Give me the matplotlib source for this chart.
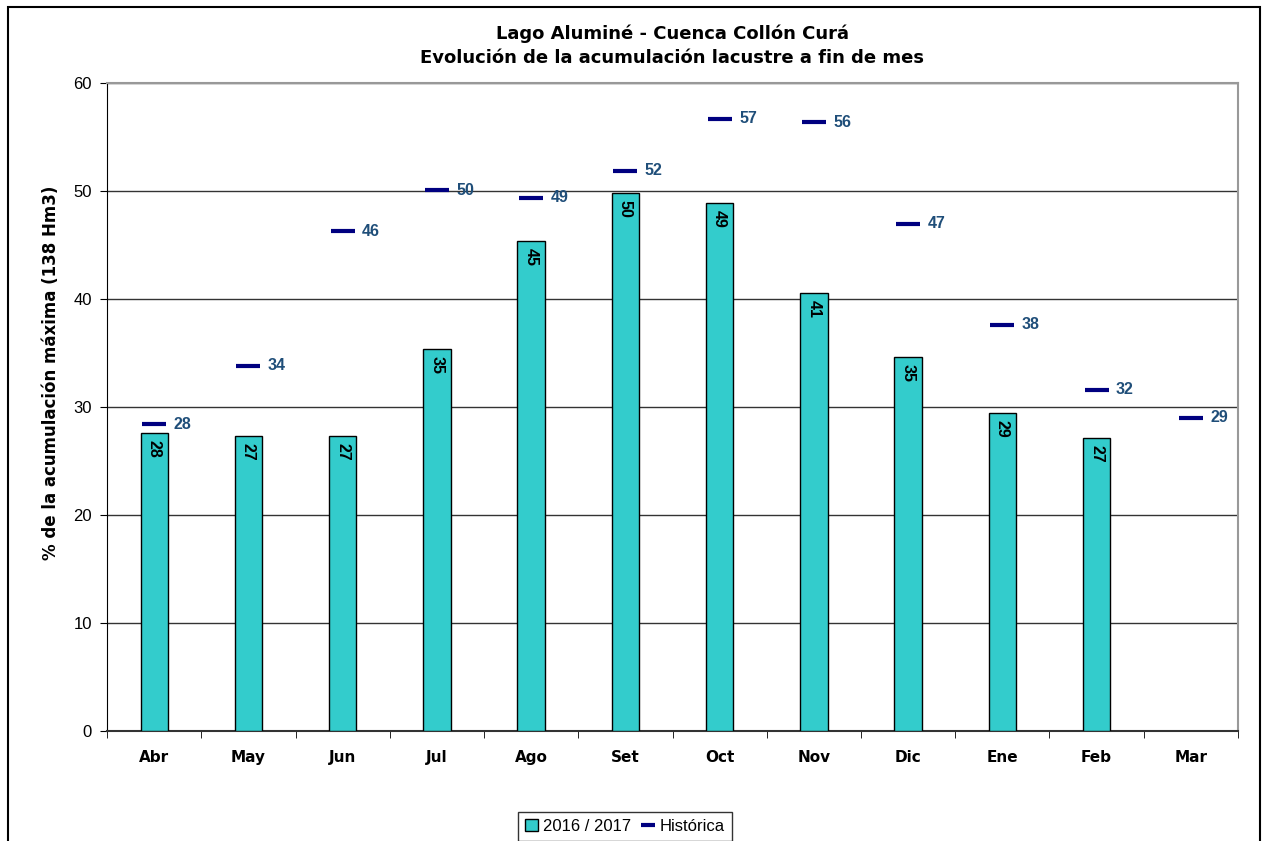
import numpy as np
import matplotlib
matplotlib.use('Agg')
import matplotlib.pyplot as plt
from matplotlib.patches import Patch, Rectangle
from matplotlib.lines import Line2D

plt.rcParams['font.family'] = ['Liberation Sans', 'DejaVu Sans']

# Datos
meses = ['Abr', 'May', 'Jun', 'Jul', 'Ago', 'Set', 'Oct', 'Nov', 'Dic', 'Ene', 'Feb', 'Mar']
acum_2016 = [27.6, 27.3, 27.3, 35.4, 45.4, 49.8, 48.9, 40.6, 34.6, 29.4, 27.1, np.nan]
historica = [28.4, 33.8, 46.3, 50.1, 49.4, 51.9, 56.7, 56.4, 47.0, 37.6, 31.6, 29.0]

x = np.arange(len(meses))
bold_font = 'DejaVu Sans'  # mas ancha, se parece al espaciado del original

fig = plt.figure(figsize=(12.64, 8.41), dpi=100)
ax = fig.add_axes([0.0847, 0.1312, 0.8947, 0.7698])

# Barras 2016/2017
ax.bar(x, acum_2016, width=0.29, color='#33CCCC', edgecolor='black', linewidth=1, zorder=3)
for xi, v in zip(x, acum_2016):
    if np.isnan(v):
        continue
    ax.annotate(f'{v:.0f}', (xi, v), xytext=(0, -5), textcoords='offset points',
                rotation=270, ha='center', va='top', fontsize=11.5, fontweight='bold', zorder=4)

# Historica
ax.plot(x, historica, linestyle='none', marker='_', markersize=17, markeredgewidth=3,
        color='#000080', zorder=4)
for xi, v in zip(x, historica):
    ax.annotate(f'{v:.0f}', (xi, v), xytext=(14, 0), textcoords='offset points',
                ha='left', va='center', fontsize=11.5, fontweight='bold', color='#1F4E79')

ax.set_xlim(-0.5, len(meses) - 0.5)
ax.set_ylim(0, 60)
ax.set_yticks(np.arange(0, 61, 10))
ax.set_xticks(x)
ax.set_xticklabels(meses, fontsize=11, fontweight='bold', family=bold_font)
ax.set_xticks(np.arange(-0.5, len(meses), 1), minor=True)
ax.tick_params(axis='x', which='major', length=0, pad=14)
ax.tick_params(axis='x', which='minor', length=5, direction='out', color='black')
ax.tick_params(axis='y', length=5, direction='out', labelsize=12, pad=6)
ax.grid(axis='y', color='#333333', linewidth=1, zorder=0)
ax.set_axisbelow(True)

for s in ['top', 'right']:
    ax.spines[s].set_color('#999999')
    ax.spines[s].set_linewidth(1.5)
ax.spines['left'].set_color('black')
ax.spines['bottom'].set_color('#333333')
ax.spines['bottom'].set_linewidth(1.5)

ax.set_ylabel('% de la acumulación máxima (138 Hm3)', fontsize=12, fontweight='bold',
              family=bold_font)
ax.yaxis.set_label_coords(-0.042, 0.552)

fig.text(0.532, 1 - 34 / 841, 'Lago Aluminé - Cuenca Collón Curá', ha='center', va='center',
         fontsize=13, fontweight='bold', family=bold_font)
fig.text(0.532, 1 - 58 / 841, 'Evolución de la acumulación lacustre a fin de mes', ha='center',
         va='center', fontsize=13, fontweight='bold', family=bold_font)

handles = [Patch(facecolor='#33CCCC', edgecolor='black', label='2016 / 2017'),
           Line2D([], [], linestyle='none', marker='_', markersize=10, markeredgewidth=3,
                  color='#000080', label='Histórica')]
leg = fig.legend(handles=handles, loc='upper center', bbox_to_anchor=(0.4945, 1 - 804 / 841),
                 ncol=2, fontsize=12, frameon=True, fancybox=False, handlelength=0.8,
                 handletextpad=0.3, columnspacing=0.6, borderpad=0.4)
leg.get_frame().set_edgecolor('black')
leg.get_frame().set_linewidth(1)

# Marco exterior
fig.patches.append(Rectangle((8 / 1264, -0.01), 1252 / 1264, 1 - 7 / 841 + 0.01,
                             transform=fig.transFigure, fill=False, edgecolor='black',
                             linewidth=1.5))

fig.savefig('out.png', dpi=100)
